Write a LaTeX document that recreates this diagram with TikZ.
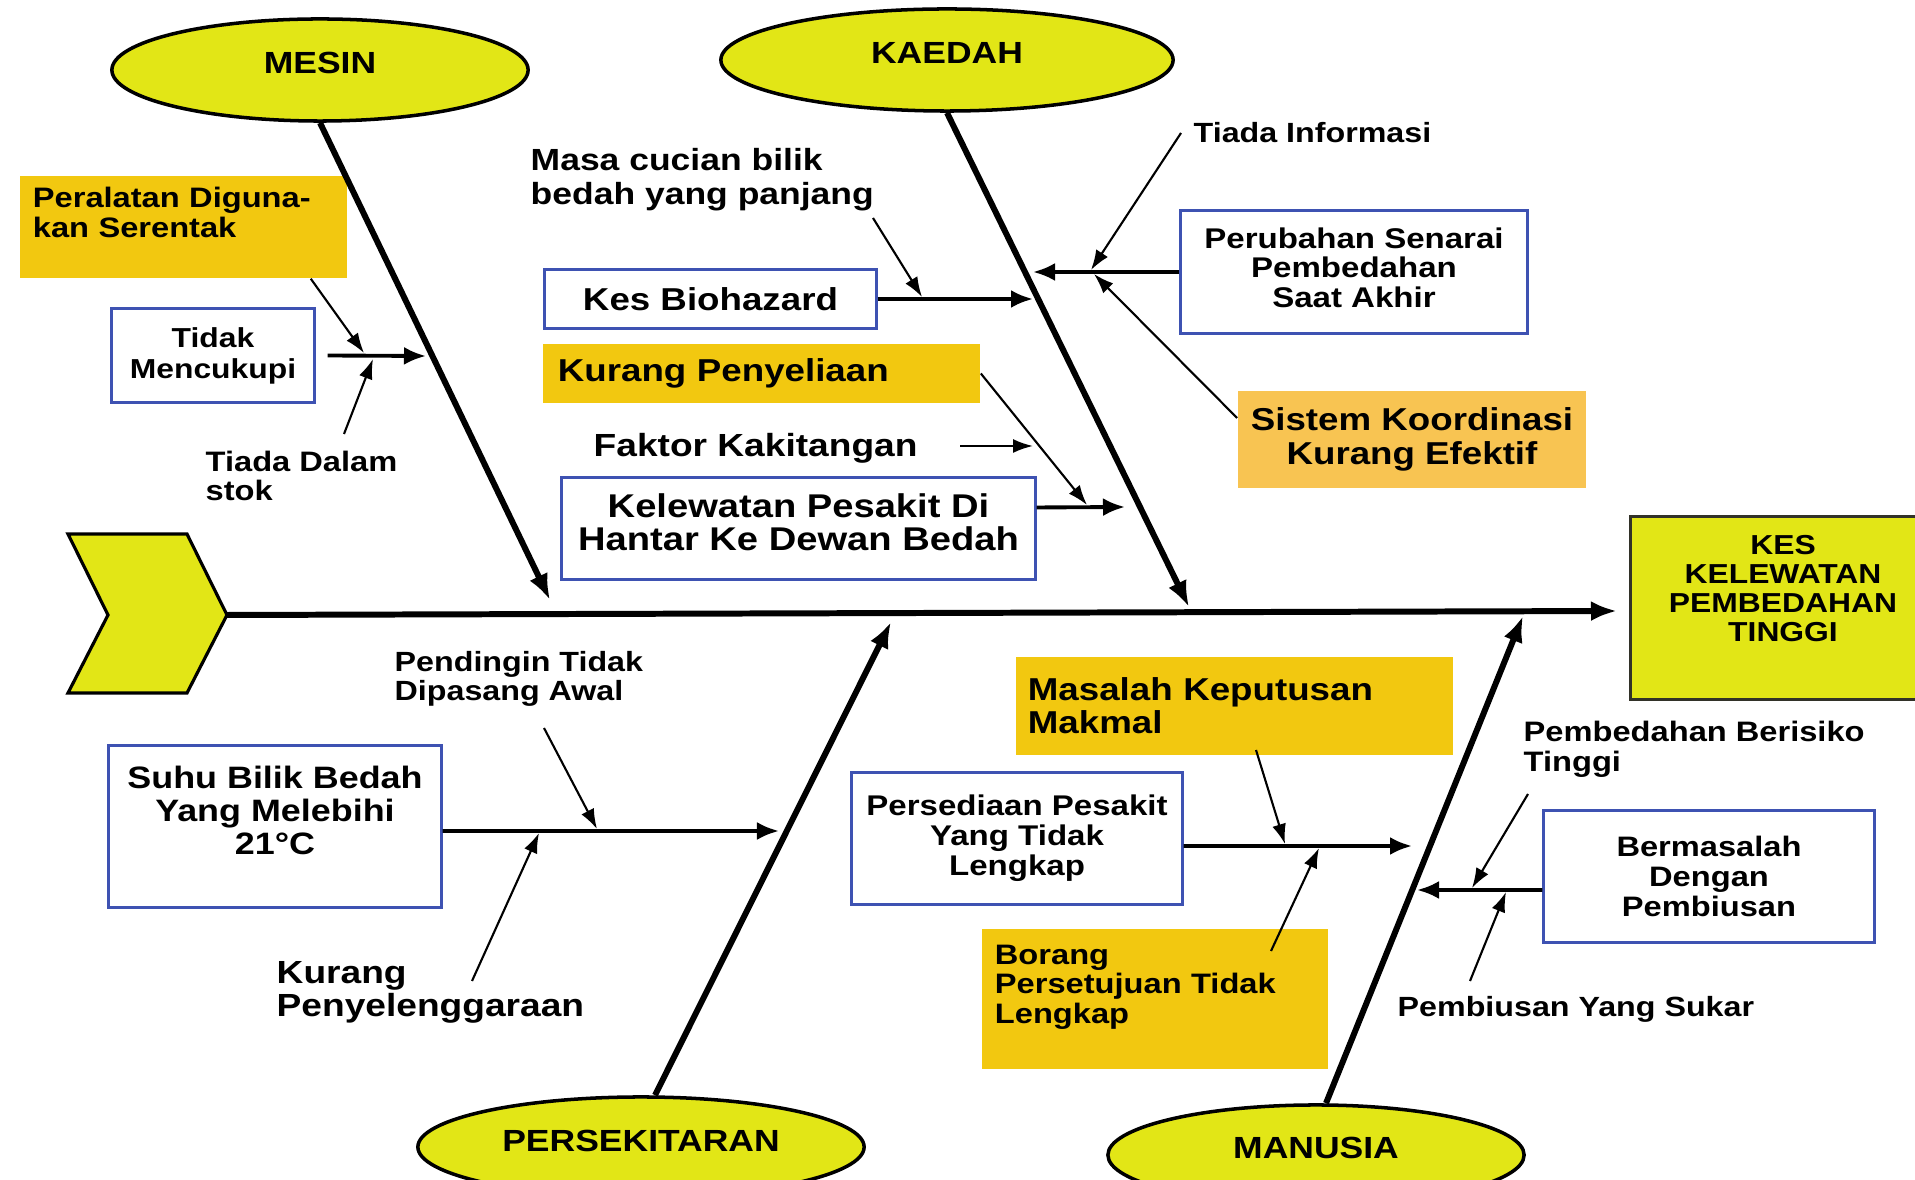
\documentclass[tikz,border=0pt]{standalone}
\usepackage{fontspec}
\setmainfont{Liberation Sans}[FakeStretch=1.16]
\usepackage{tikz}
\usetikzlibrary{arrows.meta,shapes.geometric}
\definecolor{kuning}{RGB}{226,230,22}
\definecolor{oren}{RGB}{242,200,16}
\definecolor{orenmuda}{RGB}{248,196,82}
\definecolor{biru}{RGB}{62,82,178}
\definecolor{gelap}{RGB}{50,50,40}
\newcommand{\fsz}[2]{\fontsize{#1}{#2}\selectfont\bfseries}

\begin{document}
\begin{tikzpicture}[x=0.01cm,y=-0.01cm]
\tikzset{kategori/.style = {shape=ellipse,draw,line width=1pt,fill=kuning,inner sep=0pt,text depth=0.14cm,font=\fsz{8.7}{10}}}
\tikzset{kotak/.style = {shape=rectangle,draw=biru,line width=0.85pt,fill=white,align=center,inner sep=0pt}}
\tikzset{kotakoren/.style = {shape=rectangle,fill=oren,align=left,inner xsep=0.13cm,inner ysep=0pt}}
\tikzset{teks/.style = {anchor=west,align=left,inner sep=0pt}}
\tikzset{tulang/.style = {line width=1.7pt,-{Latex[length=0.26cm,width=0.2cm]}}}
\tikzset{cabang/.style = {line width=1.1pt,-{Latex[length=0.22cm,width=0.18cm]}}}
\tikzset{anak/.style = {line width=0.6pt,-{Latex[length=0.2cm,width=0.14cm]}}}
\path[use as bounding box,fill=white] (0,0) rectangle (1915,1180);
% boxes
\node[kotakoren,text width=3.01cm,minimum height=1.02cm,font=\fsz{8}{8.3}] (peralatan) at (183.5,227) {Peralatan Diguna-\\kan Serentak\\\mbox{}};
\node[kotak,minimum width=2.02cm,minimum height=0.93cm,font=\fsz{7.8}{8.8}] (tidak) at (213,355.5) {Tidak\\Mencukupi};
\node[kotak,minimum width=3.31cm,minimum height=0.58cm,font=\fsz{9}{10}] (biohazard) at (710.5,299) {Kes Biohazard};
\node[kotakoren,inner xsep=0.15cm,text width=4.07cm,minimum height=0.59cm,font=\fsz{9}{10}] (penyeliaan) at (761.5,373.5) {Kurang Penyeliaan};
\node[kotak,minimum width=4.73cm,minimum height=1.01cm,font=\fsz{9.35}{9.4}] (kelewatan) at (798.5,528.5) {Kelewatan Pesakit Di\\Hantar Ke Dewan Bedah\\[-6pt]\mbox{}};
\node[kotak,minimum width=3.46cm,minimum height=1.22cm,font=\fsz{8.1}{8.5}] (perubahan) at (1354,272) {Perubahan Senarai\\Pembedahan\\Saat Akhir\\[-6pt]\mbox{}};
\node[kotakoren,fill=orenmuda,align=center,minimum width=3.48cm,minimum height=0.97cm,font=\fsz{9}{9.7}] (sistem) at (1412,439.5) {Sistem Koordinasi\\Kurang Efektif};
\node[kotak,draw=gelap,fill=kuning,minimum width=3.04cm,minimum height=1.82cm,font=\fsz{7.8}{8.25}] (kes) at (1783,608) {KES\\KELEWATAN\\PEMBEDAHAN\\TINGGI\\[3pt]\mbox{}};
\node[kotak,minimum width=3.32cm,minimum height=1.61cm,font=\fsz{8.8}{9.4}] (suhu) at (275,826.5) {Suhu Bilik Bedah\\Yang Melebihi\\21°C\\\mbox{}};
\node[kotakoren,inner xsep=0.12cm,text width=4.13cm,minimum height=0.98cm,font=\fsz{9}{9.4}] (masalah) at (1234.5,706) {Masalah Keputusan\\Makmal};
\node[kotak,minimum width=3.30cm,minimum height=1.31cm,font=\fsz{8.1}{8.5}] (persediaan) at (1017,838.5) {Persediaan Pesakit\\Yang Tidak\\Lengkap};
\node[kotakoren,text width=3.2cm,minimum height=1.40cm,font=\fsz{8}{8.4}] (borang) at (1155,999) {Borang\\Persetujuan Tidak\\Lengkap\\\mbox{}};
\node[kotak,minimum width=3.30cm,minimum height=1.31cm,font=\fsz{8}{8.5}] (bermasalah) at (1709,876.5) {Bermasalah\\Dengan\\Pembiusan};
% labels
\node[teks,font=\fsz{8.7}{9.7}] (masa) at (530,180) {Masa cucian bilik\\bedah yang panjang};
\node[teks,font=\fsz{8}{8.5}] (tiadadalam) at (205,476) {Tiada Dalam\\stok};
\node[teks,font=\fsz{9.1}{10}] (faktor) at (593,448) {Faktor Kakitangan};
\node[teks,font=\fsz{7.9}{9}] (tiadainfo) at (1193,133) {Tiada Informasi};
\node[teks,font=\fsz{7.9}{8.25}] (pendingin) at (394,679) {Pendingin Tidak\\Dipasang Awal};
\node[teks,font=\fsz{9.1}{9.4}] (kurangsel) at (276,992) {Kurang\\Penyelenggaraan};
\node[teks,font=\fsz{8}{8.5}] (berisiko) at (1523,749) {Pembedahan Berisiko\\Tinggi};
\node[teks,font=\fsz{7.9}{9}] (pembiusan) at (1397,1009) {Pembiusan Yang Sukar};
% categories
\node[kategori,minimum width=4.16cm,minimum height=1.02cm] (mesin) at (320,70) {MESIN};
\node[kategori,minimum width=4.52cm,minimum height=1.02cm] (kaedah) at (947,60) {KAEDAH};
\node[kategori,minimum width=4.46cm,minimum height=1.0cm,text depth=0.12cm] (persekitaran) at (641,1147) {PERSEKITARAN};
\node[kategori,minimum width=4.16cm,minimum height=1.0cm] (manusia) at (1316,1155) {MANUSIA};
% head
\draw[line width=0.9pt,fill=kuning] (68,534) -- (187,534) -- (227,615) -- (187,693) -- (68,693) -- (108,615) -- cycle;
\coordinate (kepala) at (227,615);
\coordinate (hujung) at (1617,611);
% points on the bones
\coordinate (b1) at (550,600);
\coordinate (b2) at (1189,607);
\coordinate (b3) at (891,622);
\coordinate (b4) at (1523,616);
\coordinate (t1) at (426,356);
\coordinate (t2) at (1033,299);
\coordinate (t3) at (1125,507);
\coordinate (t4) at (1033,272);
\coordinate (t5) at (779,831);
\coordinate (t6) at (1412,846);
\coordinate (t7) at (1417,890);
% points of the small arrows
\coordinate (a1) at (364,353);
\coordinate (a2s) at (344,434);
\coordinate (a2) at (373,359);
\coordinate (a3s) at (873,218);
\coordinate (a3) at (922,297);
\coordinate (a4) at (1087,505);
\coordinate (a5s) at (960,446);
\coordinate (a5) at (1033,446);
\coordinate (a6) at (1091,270);
\coordinate (a7) at (1094,274);
\coordinate (a8s) at (544,728);
\coordinate (a8) at (597,829);
\coordinate (a9s) at (472,981);
\coordinate (a9) at (539,833);
\coordinate (a10s) at (1256,750);
\coordinate (a10) at (1285,844);
\coordinate (a11s) at (1271,951);
\coordinate (a11) at (1319,848);
\coordinate (a12s) at (1528,794);
\coordinate (a12) at (1472,888);
\coordinate (a13s) at (1470,981);
\coordinate (a13) at (1506,892);
% spine and bones
\draw[tulang] (kepala) -- (hujung);
\draw[tulang] (mesin.south) -- (b1);
\draw[tulang] (kaedah.south) -- (b2);
\draw[tulang] ([xshift=0.14cm]persekitaran.north) -- (b3);
\draw[tulang] ([xshift=0.1cm]manusia.north) -- (b4);
% branches
\draw[cabang] ([xshift=0.12cm]tidak.east) -- (t1);
\draw[cabang] (biohazard.east) -- (t2);
\draw[cabang] ([yshift=0.21cm]kelewatan.east) -- (t3);
\draw[cabang] (perubahan.west) -- (t4);
\draw[cabang] ([yshift=-0.045cm]suhu.east) -- (t5);
\draw[cabang] ([yshift=-0.075cm]persediaan.east) -- (t6);
\draw[cabang] ([yshift=-0.135cm]bermasalah.west) -- (t7);
% small arrows
\draw[anak] ([xshift=-0.37cm]peralatan.south east) -- (a1);
\draw[anak] (a2s) -- (a2);
\draw[anak] (a3s) -- (a3);
\draw[anak] (penyeliaan.east) -- (a4);
\draw[anak] (a5s) -- (a5);
\draw[anak] ([xshift=-0.12cm]tiadainfo.west) -- (a6);
\draw[anak] ([yshift=0.215cm]sistem.west) -- (a7);
\draw[anak] (a8s) -- (a8);
\draw[anak] (a9s) -- (a9);
\draw[anak] (a10s) -- (a10);
\draw[anak] (a11s) -- (a11);
\draw[anak] (a12s) -- (a12);
\draw[anak] (a13s) -- (a13);
\end{tikzpicture}
\end{document}
